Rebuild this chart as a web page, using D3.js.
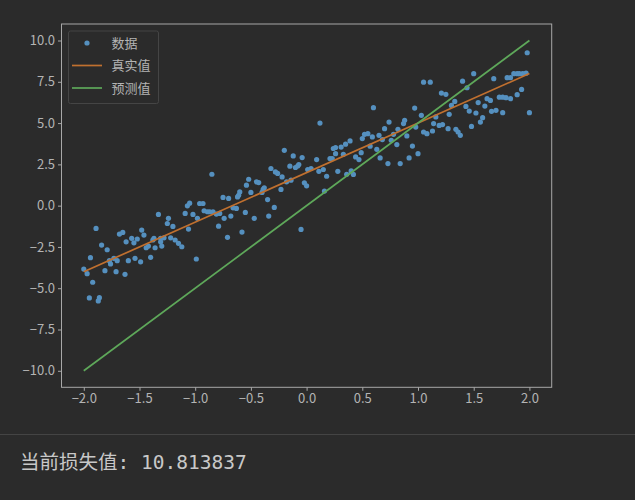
<!DOCTYPE html>
<html><head><meta charset="utf-8">
<script src="https://cdn.jsdelivr.net/npm/d3@7"></script>
<style>
html,body{margin:0;padding:0;background:#2b2b2b;}
svg{display:block;}
</style></head>
<body>
<svg id="chart" width="635" height="500"></svg>
<script>
// Scatter data (x, y)
const dataX = [-2.00,-1.97,-1.95,-1.94,-1.92,-1.89,-1.87,-1.86,-1.84,-1.81,-1.79,-1.77,-1.76,-1.73,-1.71,-1.70,-1.68,-1.65,-1.63,-1.62,-1.60,-1.57,-1.55,-1.54,
 -1.52,-1.49,-1.48,-1.46,-1.44,-1.42,-1.40,-1.38,-1.37,-1.36,-1.33,-1.31,-1.31,-1.30,-1.28,-1.25,-1.24,-1.22,-1.20,-1.18,-1.15,-1.12,-1.09,-1.07,-1.06,-1.05,-1.02,-0.99,
 -0.98,-0.96,-0.93,-0.92,-0.89,-0.87,-0.85,-0.84,-0.81,-0.79,-0.78,-0.75,-0.74,-0.71,-0.70,-0.68,-0.66,-0.63,-0.62,-0.61,-0.60,-0.58,-0.55,-0.54,-0.52,-0.50,
 -0.47,-0.45,-0.43,-0.40,-0.39,-0.38,-0.35,-0.34,-0.32,-0.29,-0.28,-0.26,-0.23,-0.22,-0.20,-0.18,-0.15,-0.14,-0.12,-0.10,-0.08,-0.07,-0.05,-0.04,-0.02,0.00,
 0.01,0.04,0.09,0.11,0.12,0.15,0.16,0.18,0.21,0.23,0.24,0.26,0.26,0.28,0.31,0.33,0.35,0.36,0.39,0.40,0.42,0.44,0.47,0.49,0.50,0.52,
 0.55,0.57,0.59,0.60,0.63,0.65,0.66,0.68,0.70,0.73,0.74,0.76,0.78,0.81,0.82,0.84,0.87,0.88,0.90,0.92,0.95,0.97,0.98,1.00,1.03,1.05,
 1.05,1.08,1.11,1.13,1.14,1.16,1.19,1.21,1.22,1.25,1.27,1.28,1.30,1.33,1.34,1.36,1.38,1.40,1.43,1.44,1.46,1.48,1.50,1.52,1.54,1.56,1.58,
 1.60,1.62,1.65,1.66,1.68,1.70,1.73,1.76,1.76,1.79,1.80,1.83,1.83,1.86,1.89,1.89,1.91,1.93,1.94,1.97,1.98,2.00];
const dataY = [-3.84,-4.12,-5.59,-3.15,-4.64,-1.38,-5.77,-5.57,-2.39,-3.94,-2.67,-3.33,-3.53,-3.19,-4.00,-3.33,-1.72,-1.62,-4.16,-2.19,-3.33,-1.98,-2.25,-3.19,
 -2.02,-3.40,-1.48,-1.78,-2.55,-2.45,-3.13,-2.08,-1.98,-2.55,-0.53,-1.98,-2.19,-2.45,-1.95,-1.08,-0.77,-1.95,-1.26,-2.08,-2.28,-2.49,-0.47,-0.01,-1.42,0.15,-0.53,-3.23,
 -0.77,0.13,0.13,-0.31,-0.37,-0.37,1.90,-0.37,-0.51,-1.24,-0.47,0.50,-0.77,-1.92,0.44,-0.63,-0.13,-0.17,0.53,0.63,0.83,-1.60,-0.41,1.24,1.60,0.80,
 -0.77,1.44,1.40,0.80,0.98,1.08,0.37,-0.63,2.25,-0.11,2.04,1.95,0.98,1.74,3.35,1.44,2.39,1.54,3.01,2.31,2.40,2.49,-1.44,2.91,1.38,1.20,
 2.19,2.25,2.79,2.08,5.00,2.19,0.88,1.78,2.85,2.85,3.46,3.52,3.15,2.08,3.55,3.11,3.72,1.90,3.92,2.10,1.89,2.95,2.79,3.21,4.06,4.32,
 4.36,3.60,4.16,5.93,3.41,4.26,2.89,4.00,4.66,2.55,5.06,3.96,4.32,3.70,4.62,2.55,4.97,5.17,4.22,2.89,3.61,5.91,4.76,3.15,5.47,4.46,
 7.48,4.36,7.48,4.52,4.97,5.37,4.86,6.82,4.91,6.74,4.66,5.53,6.07,6.31,4.62,4.46,4.26,7.54,6.01,7.14,5.73,4.80,7.99,5.61,6.24,5.06,5.33,
 6.03,6.48,6.37,5.71,7.69,5.77,6.57,6.57,5.63,6.54,7.75,6.48,7.75,7.99,6.72,7.99,7.99,7.04,7.99,8.02,9.26,5.63];
// Lines
const lineX = [-2, 2];
const trueY = [-4, 8];
const predY = [-10, 10];
// Ticks
const xTicks = [-2.0,-1.5,-1.0,-0.5,0.0,0.5,1.0,1.5,2.0];
const yTicks = [-10.0,-7.5,-5.0,-2.5,0.0,2.5,5.0,7.5,10.0];
const legendLabels = ["数据","真实值","预测值"];
const lossText = "当前损失值: 10.813837";

const colPoint = "#5590bf", colTrue = "#c0702f", colPred = "#5ea85a";
const axisCol = "#a8a8a8", textCol = "#b4b4b4";

const svg = d3.select("#chart");
svg.append("rect").attr("width",635).attr("height",500).attr("fill","#2b2b2b");

const L = 61.5, R = 551.7, T = 24, B = 387.3;
const x = d3.scaleLinear().domain([-2.2, 2.2]).range([L, R]);
const y = d3.scaleLinear().domain([-11, 11]).range([B, T]);
const fmt = v => (v < 0 ? "\u2212" : "") + Math.abs(v).toFixed(1);

// frame
svg.append("rect").attr("x",L).attr("y",T).attr("width",R-L).attr("height",B-T)
  .attr("fill","none").attr("stroke",axisCol).attr("stroke-width",1);

const font = "'Noto Sans CJK SC','Noto Sans',sans-serif";
const gx = svg.append("g").attr("transform",`translate(0,${B})`)
  .call(d3.axisBottom(x).tickValues(xTicks).tickFormat(fmt).tickSize(3.5).tickPadding(3));
const gy = svg.append("g").attr("transform",`translate(${L},0)`)
  .call(d3.axisLeft(y).tickValues(yTicks).tickFormat(fmt).tickSize(3.5).tickPadding(3));
[gx, gy].forEach(g => {
  g.select(".domain").remove();
  g.selectAll(".tick line").attr("stroke",axisCol);
  g.selectAll(".tick text").attr("fill",textCol).style("font-family",font).style("font-size","13px");
});

// points
svg.append("g").selectAll("circle").data(dataX).join("circle")
  .attr("cx",(d)=>x(d)).attr("cy",(d,i)=>y(dataY[i])).attr("r",2.6).attr("fill",colPoint);

const line = d3.line().x(d=>x(d[0])).y(d=>y(d[1]));
svg.append("path").attr("d",line(lineX.map((v,i)=>[v,trueY[i]])))
  .attr("stroke",colTrue).attr("stroke-width",1.7).attr("fill","none");
svg.append("path").attr("d",line(lineX.map((v,i)=>[v,predY[i]])))
  .attr("stroke",colPred).attr("stroke-width",1.7).attr("fill","none");

// legend
const lg = svg.append("g");
lg.append("rect").attr("x",68.5).attr("y",31).attr("width",90).attr("height",72.5).attr("rx",2)
  .attr("fill","#2b2b2b").attr("stroke","#454545").attr("stroke-width",1);
const rows = [43, 65.5, 88];
lg.append("circle").attr("cx",87).attr("cy",rows[0]).attr("r",2.6).attr("fill",colPoint);
lg.append("line").attr("x1",72).attr("x2",102).attr("y1",rows[1]).attr("y2",rows[1]).attr("stroke",colTrue).attr("stroke-width",1.7);
lg.append("line").attr("x1",72).attr("x2",102).attr("y1",rows[2]).attr("y2",rows[2]).attr("stroke",colPred).attr("stroke-width",1.7);
legendLabels.forEach((t,i)=>{
  lg.append("text").attr("x",111.5).attr("y",rows[i]).attr("dy","0.35em").text(t)
    .attr("fill",textCol).style("font-family",font).style("font-size","13px");
});

// separator and loss text
svg.append("line").attr("x1",0).attr("x2",635).attr("y1",434.5).attr("y2",434.5).attr("stroke","#444").attr("stroke-width",1);
svg.append("text").attr("x",20).attr("y",469).text(lossText)
  .attr("fill","#c8c8c8").style("font-family","'DejaVu Sans Mono','Noto Sans CJK SC',monospace").style("font-size","19.5px");
</script>
</body></html>
